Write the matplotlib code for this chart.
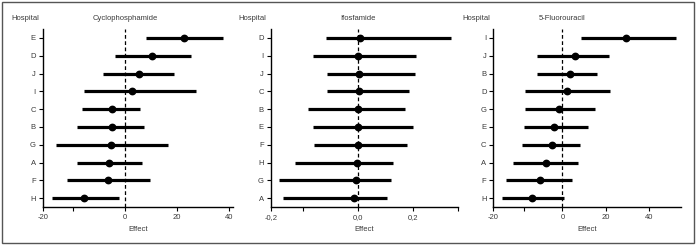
import matplotlib
matplotlib.use("Agg")
import matplotlib.pyplot as plt
import matplotlib.transforms as mtransforms
from matplotlib.patches import Rectangle

plt.rcParams['font.family'] = ['Liberation Sans Narrow', 'Liberation Sans', 'DejaVu Sans']
plt.rcParams['font.size'] = 5.5

# hospitals listed top to bottom, with estimate and interval
cyc_hosp = ['E', 'D', 'J', 'I', 'C', 'B', 'G', 'A', 'F', 'H']
cyc_est = [22.7, 10.5, 5.4, 2.7, -4.9, -5.0, -5.3, -6.2, -6.5, -15.8]
cyc_lo = [8.2, -4.0, -8.5, -15.8, -16.4, -18.6, -26.5, -18.3, -22.2, -28.1]
cyc_hi = [37.7, 25.1, 18.8, 27.2, 5.9, 7.4, 16.3, 6.4, 9.4, -2.2]

ifo_hosp = ['D', 'I', 'J', 'C', 'B', 'E', 'F', 'H', 'G', 'A']
ifo_est = [0.006, 0.0, 0.004, 0.004, 0.0, 0.0, 0.0, -0.002, -0.007, -0.015]
ifo_lo = [-0.116, -0.165, -0.112, -0.114, -0.183, -0.165, -0.161, -0.229, -0.287, -0.273]
ifo_hi = [0.339, 0.212, 0.207, 0.185, 0.173, 0.201, 0.178, 0.128, 0.119, 0.105]

flu_hosp = ['I', 'J', 'B', 'D', 'G', 'E', 'C', 'A', 'F', 'H']
flu_est = [29.3, 5.9, 3.4, 2.2, -1.4, -3.9, -4.9, -7.6, -10.3, -14.2]
flu_lo = [8.5, -11.7, -11.7, -17.3, -17.3, -17.9, -18.8, -22.9, -25.9, -27.8]
flu_hi = [52.7, 21.6, 15.9, 21.9, 15.0, 12.0, 8.3, 7.1, 4.3, 0.9]

panels = [
    ("Cyclophosphamide", cyc_hosp, cyc_est, cyc_lo, cyc_hi,
     (-31.6, 41.4), [-31.6, -20, 0, 20, 40], ['-20', '', '0', '20', '40'],
     [0.0613, 0.273], 0.017),
    ("Ifosfamide", ifo_hosp, ifo_est, ifo_lo, ifo_hi,
     (-0.317, 0.364), [-0.317, -0.2, 0, 0.2, 0.364], ['-0,2', '', '0,0', '0,2', ''],
     [0.3884, 0.2687], 0.3415),
    ("5-Fluorouracil", flu_hosp, flu_est, flu_lo, flu_hi,
     (-32.0, 55.0), [-32.0, -18, 0, 20, 40], ['-20', '', '0', '20', '40'],
     [0.7078, 0.2693], 0.663),
]

txt = '#3a3a3a'
fig = plt.figure(figsize=(6.97, 2.46), dpi=100)

for title, hosp, est, lo, hi, xlim, ticks, tlabels, (left, width), hx in panels:
    ax = fig.add_axes([left, 0.1585, width, 0.7236])
    n = len(hosp)
    ys = list(range(n - 1, -1, -1))
    ax.hlines(ys, lo, hi, color='black', lw=2.3, zorder=3)
    ax.plot(est, ys, 'o', color='black', ms=4.6, zorder=4)
    ax.axvline(0, color='black', lw=0.9, ls=(0, (3, 2)), zorder=2)
    ax.set_xlim(*xlim)
    ax.set_ylim(-0.5, n - 0.5)
    ax.set_yticks(ys)
    ax.set_yticklabels(hosp, color=txt)
    ax.set_xticks(ticks)
    ax.set_xticklabels(tlabels, color=txt)
    ax.tick_params(length=3, width=0.8, pad=2, colors='black', labelcolor=txt)
    for s in ['top', 'right']:
        ax.spines[s].set_visible(False)
    for s in ['left', 'bottom']:
        ax.spines[s].set_linewidth(1.0)
    trans = mtransforms.blended_transform_factory(ax.transData, fig.transFigure)
    ax.text(0, 0.923, title, transform=trans, ha='center', va='center', color=txt)
    fig.text(hx, 0.923, "Hospital", ha='left', va='center', color=txt)
    fig.text(left + width / 2, 0.069, "Effect", ha='center', va='center', color=txt)

fig.patches.append(Rectangle((0.003, 0.013), 0.992, 0.979, transform=fig.transFigure,
                             fill=False, edgecolor='#555555', lw=1.0))

fig.savefig("out.png", dpi=100)
